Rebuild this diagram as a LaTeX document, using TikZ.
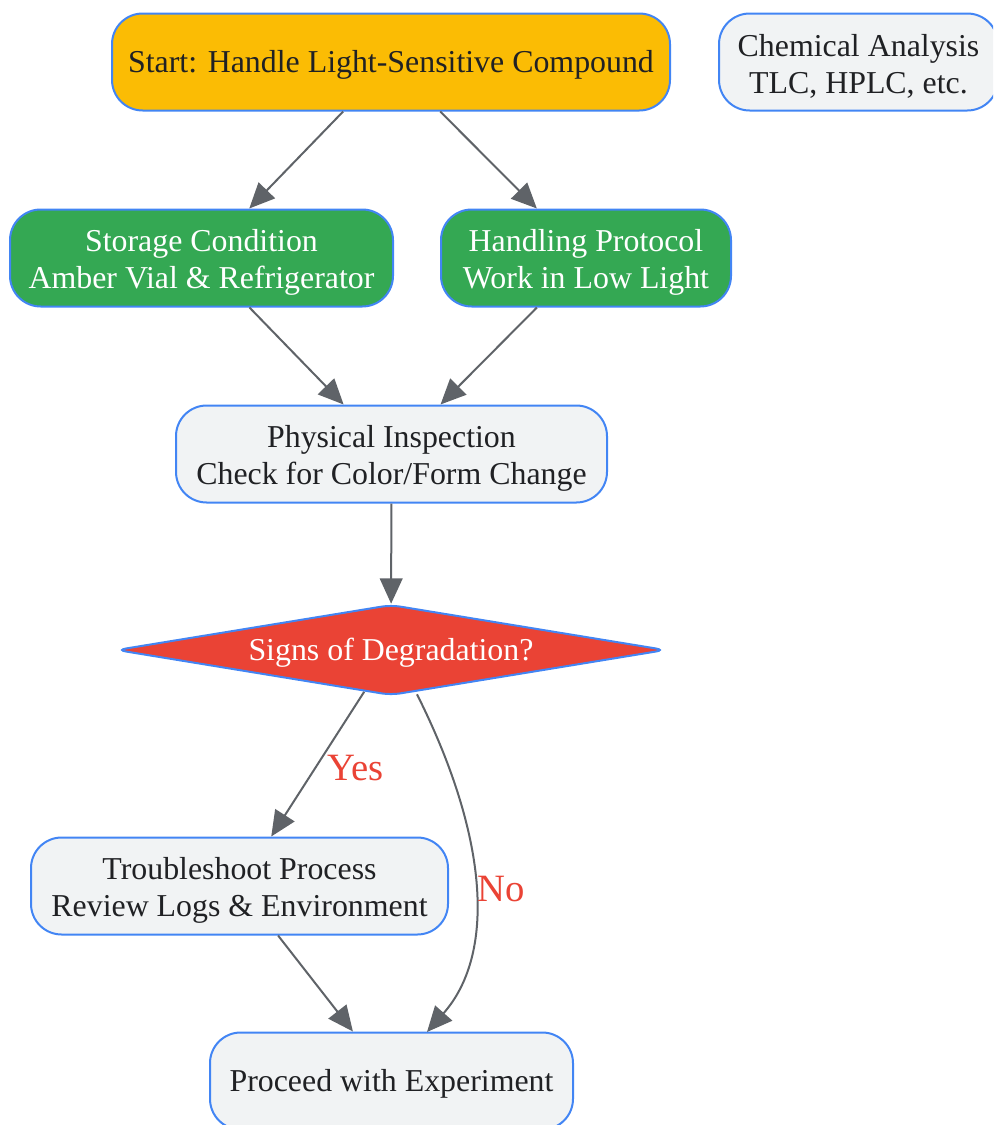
\documentclass[tikz,border=0pt]{standalone}
\usepackage{fontspec}
\setmainfont{Liberation Serif}
\usetikzlibrary{arrows.meta,shapes.geometric}
\definecolor{edgeblue}{HTML}{4285F4}
\definecolor{boxgray}{HTML}{F1F3F4}
\definecolor{startyellow}{HTML}{FBBC04}
\definecolor{okgreen}{HTML}{34A853}
\definecolor{alertred}{HTML}{EA4335}
\definecolor{linegray}{HTML}{5F6368}
\definecolor{textdark}{HTML}{202124}
\newcommand{\topstrut}{\rule{0pt}{22.5pt}}
\begin{document}
\begin{tikzpicture}[x=0.75pt,y=-0.75pt,
    box/.style={draw=edgeblue,line width=1.5pt,rounded corners=23pt,fill=boxgray,text=textdark,
        align=center,inner sep=0pt,minimum height=72.75pt,font=\fontsize{23.9}{27.75}\selectfont,
        execute at begin node={\rule{0pt}{21pt}}},
    flow/.style={draw=linegray,line width=1.5pt,-{Triangle[length=19pt,width=17pt]}},
    answer/.style={text=alertred,font=\fontsize{29}{32}\selectfont}]
    \clip (0,0) rectangle (993,1125);
    \useasboundingbox (0,0) rectangle (993,1125);
    \node[box,fill=startyellow,minimum width=418.5pt] (start) at (391,62) {Start: Handle Light-Sensitive Compound};
    \node[box,minimum width=209.25pt] (analysis) at (858.5,62) {\topstrut Chemical Analysis\\TLC, HPLC, etc.};
    \node[box,fill=okgreen,text=white,minimum width=287.25pt] (storage) at (201.5,258) {\topstrut Storage Condition\\Amber Vial \& Refrigerator};
    \node[box,fill=okgreen,text=white,minimum width=217.5pt] (handling) at (586,258) {\topstrut Handling Protocol\\Work in Low Light};
    \node[box,minimum width=323.25pt] (inspect) at (391.5,454) {\topstrut Physical Inspection\\Check for Color/Form Change};
    \node[diamond,aspect=6,draw=edgeblue,line width=1.5pt,fill=alertred,text=white,inner sep=0pt,
        rounded corners=7pt,minimum width=412pt,minimum height=68pt,
        font=\fontsize{23.9}{27.75}\selectfont,execute at begin node={\rule{0pt}{21pt}}] (degraded) at (391,650) {Signs of Degradation?};
    \node[box,minimum width=312.75pt] (trouble) at (239.5,886) {\topstrut Troubleshoot Process\\Review Logs \& Environment};
    \node[box,minimum width=272.25pt] (proceed) at (391.5,1081) {Proceed with Experiment};
    % arrows
    \draw[flow] (start) -- (storage);
    \draw[flow] (start) -- (handling);
    \draw[flow] (storage) -- (inspect);
    \draw[flow] (handling) -- (inspect);
    \draw[flow] (inspect) -- (degraded);
    \draw[flow] (degraded) -- node[answer,pos=0.53,right=5pt] {Yes} (trouble);
    \draw[flow] (degraded.south)+(26,-2) .. controls (490,840) and (495,955) .. node[answer,pos=0.5,right=-2pt] {No} (427,1032);
    \draw[flow] (trouble) -- (proceed);
\end{tikzpicture}
\end{document}
